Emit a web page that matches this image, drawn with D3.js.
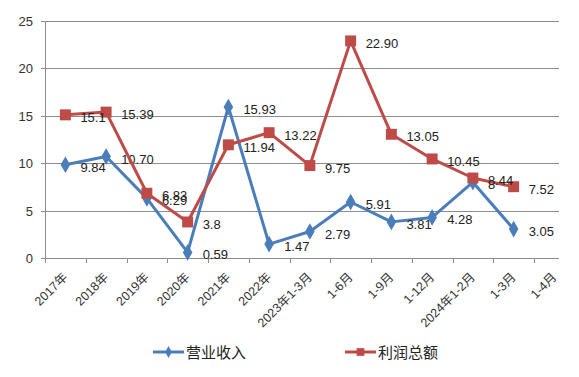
<!DOCTYPE html>
<html>
<head>
<meta charset="utf-8">
<script src="https://cdn.jsdelivr.net/npm/d3@7"></script>
<style>
  body { margin: 0; background: #fff; }
  svg { display: block; font-family: "Liberation Sans", Arial, "Noto Sans CJK SC", sans-serif; }
</style>
</head>
<body>
<svg id="chart" width="579" height="377"></svg>
<script>
const categories = ["2017年", "2018年", "2019年", "2020年", "2021年", "2022年", "2023年1-3月",
    "1-6月", "1-9月", "1-12月", "2024年1-2月", "1-3月", "1-4月"];
const revenue = [9.84, 10.70, 6.29, 0.59, 15.93, 1.47, 2.79, 5.91, 3.81, 4.28, 8, 3.05];
const revenueLabels = ["9.84", "10.70", "6.29", "0.59", "15.93", "1.47", "2.79", "5.91", "3.81", "4.28", "8", "3.05"];
const profit = [15.1, 15.39, 6.83, 3.8, 11.94, 13.22, 9.75, 22.90, 13.05, 10.45, 8.44, 7.52];
const profitLabels = ["15.1", "15.39", "6.83", "3.8", "11.94", "13.22", "9.75", "22.90", "13.05", "10.45", "8.44", "7.52"];
const yTicks = [0, 5, 10, 15, 20, 25];

const margin = {top: 21, left: 45, bottom: 258};
const plotRight = 559;
const band = 40.75;

const svg = d3.select("#chart");

const x = d3.scaleBand()
    .domain(categories)
    .range([margin.left, margin.left + band * categories.length]);
const y = d3.scaleLinear()
    .domain([0, 25])
    .range([margin.bottom, margin.top]);

const gridColor = "#8c8c8c";

// gridlines
svg.append("g")
    .selectAll("line")
    .data(yTicks)
    .join("line")
    .attr("x1", margin.left - 4)
    .attr("x2", plotRight)
    .attr("y1", d => Math.round(y(d)) + 0.5)
    .attr("y2", d => Math.round(y(d)) + 0.5)
    .attr("stroke", gridColor)
    .attr("stroke-width", 1);

// y axis line
svg.append("line")
    .attr("x1", margin.left + 0.5).attr("x2", margin.left + 0.5)
    .attr("y1", y(25)).attr("y2", y(0))
    .attr("stroke", gridColor);

svg.append("g")
    .selectAll("text")
    .data(yTicks)
    .join("text")
    .attr("x", 33)
    .attr("y", d => y(d) + 5)
    .attr("text-anchor", "end")
    .attr("font-size", 13)
    .attr("fill", "#333")
    .text(d => d);

// x ticks (between categories)
const tickXs = categories.map(c => x(c)).filter(v => v <= plotRight);
svg.append("g")
    .selectAll("line")
    .data(tickXs)
    .join("line")
    .attr("x1", d => Math.round(d) + 0.5)
    .attr("x2", d => Math.round(d) + 0.5)
    .attr("y1", y(0))
    .attr("y2", y(0) + 5)
    .attr("stroke", gridColor);

svg.append("g")
    .selectAll("text")
    .data(categories)
    .join("text")
    .attr("transform", d => `translate(${x(d) + x.bandwidth() / 2 + 3},${y(0) + 20}) rotate(-45)`)
    .attr("text-anchor", "end")
    .attr("font-size", 12.5)
    .attr("fill", "#333")
    .text(d => d);

const cx = i => x(categories[i]) + x.bandwidth() / 2;

const line = d3.line()
    .x((d, i) => cx(i))
    .y(d => y(d));

function drawSeries(values, labels, color, symbol, size) {
    const g = svg.append("g");
    g.append("path")
        .datum(values)
        .attr("fill", "none")
        .attr("stroke", color)
        .attr("stroke-width", 3)
        .attr("stroke-linejoin", "round")
        .attr("d", line);
    g.selectAll("path.mark")
        .data(values)
        .join("path")
        .attr("class", "mark")
        .attr("transform", (d, i) => `translate(${cx(i)},${y(d)})`)
        .attr("fill", color)
        .attr("d", d3.symbol().type(symbol).size(size));
    g.selectAll("text")
        .data(values)
        .join("text")
        .attr("x", (d, i) => cx(i) + 15)
        .attr("y", d => y(d) + 7)
        .attr("font-size", 13)
        .attr("fill", "#222")
        .text((d, i) => labels[i]);
}

drawSeries(revenue, revenueLabels, "#4a7ebb", d3.symbolDiamond, 80);
drawSeries(profit, profitLabels, "#be4b48", d3.symbolSquare, 120);

// legend
const legend = [
    {name: "营业收入", color: "#4a7ebb", symbol: d3.symbolDiamond, size: 40, x: 153},
    {name: "利润总额", color: "#be4b48", symbol: d3.symbolSquare, size: 60, x: 345}
];
const lg = svg.append("g").selectAll("g").data(legend).join("g")
    .attr("transform", d => `translate(${d.x},352)`);
lg.append("line")
    .attr("x1", 0).attr("x2", 31)
    .attr("stroke", d => d.color)
    .attr("stroke-width", 3);
lg.append("path")
    .attr("transform", "translate(15.5,0)")
    .attr("fill", d => d.color)
    .attr("d", d => d3.symbol().type(d.symbol).size(d.size)());
lg.append("text")
    .attr("x", 33)
    .attr("y", 6)
    .attr("font-size", 15)
    .attr("fill", "#222")
    .attr("font-family", "Noto Sans CJK SC, sans-serif")
    .text(d => d.name);
</script>
</body>
</html>
